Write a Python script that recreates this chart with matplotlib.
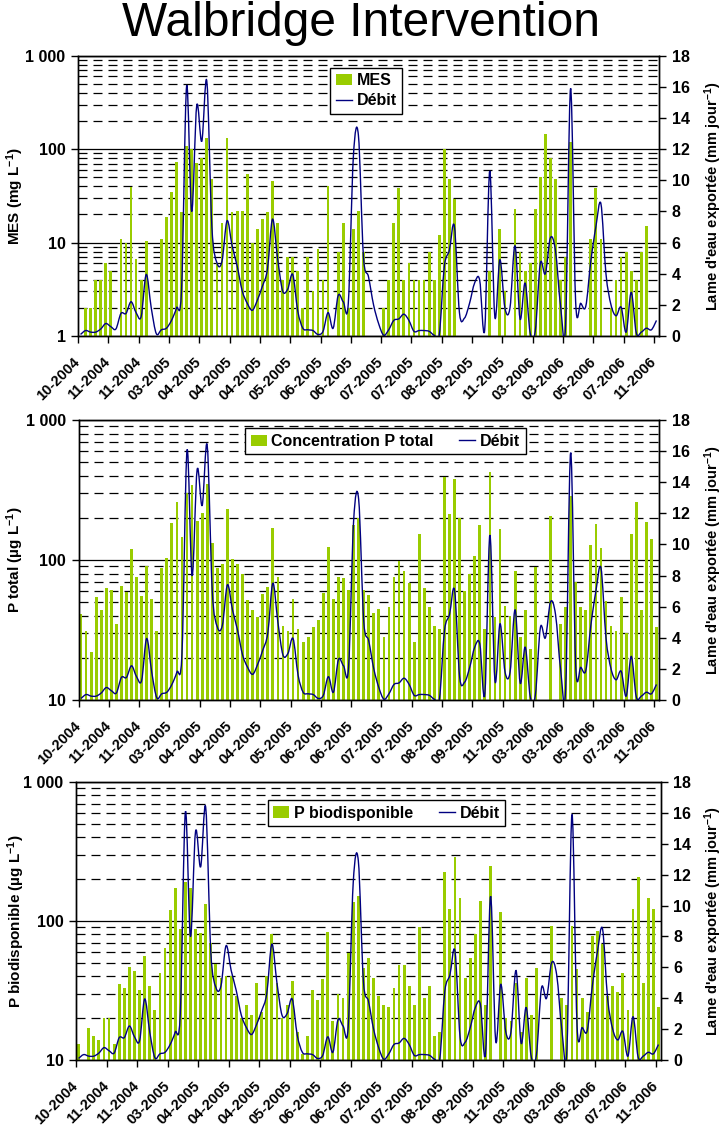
import numpy as np
import matplotlib
matplotlib.use('Agg')
import matplotlib.pyplot as plt
from matplotlib.path import Path
from matplotlib.patches import PathPatch, Patch
from matplotlib.lines import Line2D
from matplotlib.ticker import FixedLocator, LogLocator, NullFormatter

plt.rcParams['font.family'] = ['Liberation Sans', 'DejaVu Sans']
plt.rcParams['font.weight'] = 'bold'
plt.rcParams['mathtext.fontset'] = 'custom'
plt.rcParams['mathtext.bf'] = 'Liberation Sans:bold'
plt.rcParams['mathtext.rm'] = 'Liberation Sans:bold'
plt.rcParams['mathtext.default'] = 'bf'

nan = np.nan

# one label every 6 sampling dates
date_labels = ['10-2004', '11-2004', '11-2004', '03-2005', '04-2005', '04-2005', '04-2005',
               '05-2005', '06-2005', '06-2005', '07-2005', '07-2005', '08-2005', '09-2005',
               '11-2005', '03-2006', '03-2006', '05-2006', '07-2006', '11-2006']

# MES (mg/L), one value per sample
mes = [nan, 2, 2, 4, 4, 6, 5, nan, 11, 10, 39, 6.6, 4, 10.5, nan, nan, 11, 19, 35, 73,
       21, 109, 100, 71, 80, 130, 48, 6, 16, 130, 21, 22, 22, 54, 10, 14, 18, 21, 46, 16,
       4, 7, 7, 5, 2, 7, 3, 8.5, 4, 40, nan, 8, 16, 2, 14, 22, 8, nan, nan, nan,
       2, 4, 16, 38, 4, 6, 4, 4, 4, 8, 4, 12, 100, 48, 29, nan, nan, nan, nan, nan,
       nan, 5, nan, 14, 3, nan, 23, 8, 5, 6, 23, 50, 147, 80, 48, 4, 7, 120, nan, nan,
       nan, 11, 38, 11, nan, 2, 4, 7, 8, 5, 4, 8, 15, nan, nan]

# P total (ug/L)
p_total = [41, 31, 22, 54, 44, 63, 61, 35, 65, 59, 120, 76, 55, 90, 53, 31, 87, 103, 185, 258,
           145, 300, 343, 190, 215, 347, 132, 87, 93, 230, 101, 93, 80, 52, 44, 39, 57, 64, 169, 75,
           34, 31, 53, 32, 26, 28, 33, 37, 58, 124, 53, 75, 74, 61, 178, 200, 61, 56, 42, 45,
           28, 46, 76, 99, 83, 69, 26, 153, 63, 46, 34, 32, 390, 213, 379, 200, 60, 80, 107, 177,
           32, 425, 39, 166, 47, 40, 83, 28, 44, 23, 89, nan, nan, 206, nan, 35, 46, 286, 70, 46,
           44, 128, 180, 122, 51, 34, 31, 54, 30, 153, 260, 44, 187, 141, 33]

# P biodisponible (ug/L)
p_bio = [13, nan, 17, 15, 14, 20, 20, 13, 35, 33, 47, 44, 32, 56, 34, 23, 42, 64, 120, 172,
         88, 192, 172, 88, 82, 132, 69, 49, 39, 40, 40, 29, 20, 25, 21, 36, 22, 40, 80, 36,
         20, 25, 37, 16, 11, 15, 32, 27, 38, 84, 19, 30, 28, 59, 136, 151, 46, 54, 39, 29,
         25, 24, 33, 48, 48, 34, 25, 90, 28, 34, 15, 16, 224, 122, 287, 146, 39, 54, 80, 140,
         25, 249, nan, 116, 20, 19, 36, 16, 39, 21, 46, nan, nan, 92, nan, 28, 25, 92, 45, 28,
         22, 78, 85, 68, 29, 34, 31, 42, 23, 123, 208, 36, 147, 123, 24]

# Débit : lame d'eau exportée (mm/jour)
debit = [0.1, 0.35, 0.25, 0.25, 0.45, 0.8, 0.6, 0.45, 1.45, 1.45, 2.2, 1.5, 1.25, 3.95, 1.8,
         0.15, 0.4, 0.5, 1.0, 1.8, 3.0, 16.05, 8.0, 14.8, 12.5, 16.35, 7.0, 4.7, 4.8, 7.4,
         5.8, 4.5, 2.9, 2.1, 1.65, 2.3, 3.2, 4.3, 7.5, 5.0, 2.9, 3.0, 3.95, 1.6, 0.5,
         0.4, 0.35, 0.1, 0.3, 1.5, 0.5, 2.6, 2.2, 2.1, 11.5, 12.9, 5.1, 3.8, 2.0, 0.8,
         0.05, 0.4, 1.0, 1.1, 1.4, 1.0, 0.3, 0.35, 0.35, 0.3, 0.05, 0.05, 4.45, 5.5, 7.05,
         1.5, 1.15, 2.1, 3.4, 3.6, 0.4, 10.6, 1.25, 4.9, 1.8, 1.8, 5.8, 1.1, 3.4, 0.2,
         0.3, 4.65, 4.0, 6.3, 5.5, 2.0, 0.65, 15.9, 2.2, 2.1, 1.9, 4.8, 7.0, 8.5, 4.0,
         2.0, 1.3, 1.85, 0.25, 2.8, 0.2, 0.25, 0.5, 0.4, 1.0]

GREEN = '#99CC00'
NAVY = '#000080'


def smooth_path(x, y):
    # smoothed line like excel: cubic bezier going through every point
    pts = np.column_stack([x, y]).astype(float)
    n = len(pts)
    verts = [pts[0]]
    codes = [Path.MOVETO]
    for i in range(n - 1):
        p0 = pts[max(i - 1, 0)]
        p1 = pts[i]
        p2 = pts[i + 1]
        p3 = pts[min(i + 2, n - 1)]
        verts += [p1 + (p2 - p0) / 6, p2 - (p3 - p1) / 6, p2]
        codes += [Path.CURVE4] * 3
    return Path(verts, codes)


def plot_panel(fig, rect, values, ylim, yticklabels, ylabel, bar_label, leg_anchor, ncol, ylabel_x, y2label_x):
    ax = fig.add_axes(rect)
    vals = np.array(values, dtype=float)
    x = np.arange(len(vals))
    ax.set_yscale('log')
    ax.bar(x, vals - ylim[0], bottom=ylim[0], width=0.55, color=GREEN, zorder=2)
    ax.set_ylim(*ylim)
    ax.set_xlim(-0.5, len(vals) - 0.5)

    decades = [10 ** k for k in range(int(np.log10(ylim[0])), int(np.log10(ylim[1])) + 1)]
    ax.yaxis.set_major_locator(FixedLocator(decades))
    ax.set_yticklabels(yticklabels)
    ax.yaxis.set_minor_locator(LogLocator(base=10, subs=np.arange(2, 10)))
    ax.yaxis.set_minor_formatter(NullFormatter())
    ax.tick_params(axis='y', which='minor', length=0)
    ax.tick_params(axis='y', which='major', length=5, width=1, labelsize=11.5, pad=4)
    ax.grid(axis='y', which='major', color='black', lw=0.9)
    ax.grid(axis='y', which='minor', color='black', lw=0.9, linestyle=(0, (7.2, 4.8)))
    ax.set_axisbelow(True)

    ax.set_xticks(np.arange(0, len(vals), 6) - 0.5)
    ax.set_xticklabels(date_labels, rotation=45, ha='right', va='center',
                       rotation_mode='anchor', fontsize=10.5)
    ax.tick_params(axis='x', length=5, width=1, pad=12)
    ax.set_ylabel(ylabel, fontsize=11, fontweight='bold')
    ax.yaxis.set_label_coords(ylabel_x, 0.5)

    ax2 = ax.twinx()
    ax2.set_ylim(0, 18)
    ax2.set_yticks(range(0, 19, 2))
    ax2.tick_params(axis='y', length=5, width=1, labelsize=11.5, pad=4)
    ax2.add_patch(PathPatch(smooth_path(x, debit), fill=False, edgecolor=NAVY, lw=1.0))
    ax2.set_ylabel("Lame d'eau exportée (mm jour$^{-1}$)", fontsize=10.5, fontweight='bold')
    ax2.yaxis.set_label_coords(y2label_x, 0.5)

    for a in (ax, ax2):
        for s in a.spines.values():
            s.set_linewidth(1)

    handles = [Patch(facecolor=GREEN, edgecolor='none'), Line2D([], [], color=NAVY, lw=1.0)]
    leg = ax2.legend(handles, [bar_label, 'Débit'], loc='upper left', bbox_to_anchor=leg_anchor,
                     ncol=ncol, fancybox=False, framealpha=1, edgecolor='black',
                     prop={'size': 11.5, 'weight': 'bold'}, handlelength=1.0, handleheight=0.7,
                     handletextpad=0.3, columnspacing=1.6, borderpad=0.35, labelspacing=0.3,
                     borderaxespad=0)
    leg.get_frame().set_linewidth(1)
    return ax


fig = plt.figure(figsize=(7.23, 11.27), dpi=100)
fig.text(0.5, 1 - 24 / 1127, 'Walbridge Intervention', ha='center', va='center',
         fontsize=34.5, fontweight='normal')

plot_panel(fig, [78 / 723, 1 - 336 / 1127, 581 / 723, 280.3 / 1127], mes, (1, 1000),
           ['1', '10', '100', '1 000'], 'MES (mg L$^{-1}$)', 'MES', (0.434, 0.957), 1,
           (26 - 78) / 581, (702 - 78) / 581)
plot_panel(fig, [78.5 / 723, 1 - 700 / 1127, 580.5 / 723, 280 / 1127], p_total, (10, 1000),
           ['10', '100', '1 000'], 'P total (µg L$^{-1}$)', 'Concentration P total',
           (0.287, 0.971), 2, (26 - 78.5) / 580.5, (702 - 78.5) / 580.5)
plot_panel(fig, [76 / 723, 1 - 1060 / 1127, 585 / 723, 278 / 1127], p_bio, (10, 1000),
           ['10', '100', '1 000'], 'P biodisponible (µg L$^{-1}$)', 'P biodisponible',
           (0.328, 0.935), 2, (27 - 76) / 585, (702 - 76) / 585)

fig.savefig('out.png', dpi=100)
